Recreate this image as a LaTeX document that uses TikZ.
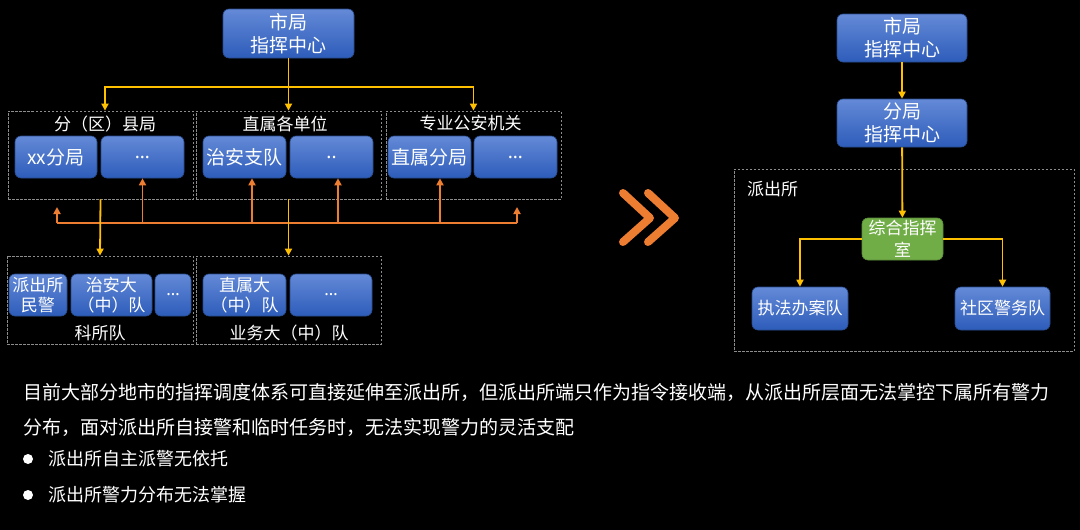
\documentclass[tikz,border=0pt]{standalone}
\usepackage{fontspec}
\setmainfont{Noto Sans CJK SC}
\newfontfamily\latfont{Noto Sans}
\usetikzlibrary{arrows.meta}
\definecolor{yel}{HTML}{FFC000}
\definecolor{org}{HTML}{ED7D31}
\definecolor{btop}{RGB}{100,138,215}
\definecolor{bbot}{RGB}{45,92,186}
\definecolor{bline}{RGB}{40,75,140}
\definecolor{grn}{HTML}{70AD47}
\definecolor{dgray}{RGB}{140,140,140}
\tikzset{
 bx/.style={rounded corners=6pt, draw=bline, line width=0.6pt, top color=btop, bottom color=bbot, text=white, align=center, inner sep=0pt},
 gbx/.style={rounded corners=6pt, draw=grn!80!black, line width=0.6pt, fill=grn, text=white, align=center, inner sep=0pt},
 grp/.style={draw=dgray, line width=0.8pt, dash pattern=on 2.5pt off 1.5pt, inner sep=0pt},
 fA/.style={font=\fontsize{19}{23}\selectfont},
 fB/.style={font=\fontsize{17}{20}\selectfont},
 ya/.style={draw=yel, line width=1.8pt, -{Triangle[width=7pt,length=7pt]}},
 oa/.style={draw=org, line width=1.8pt, -{Triangle[width=7pt,length=7pt]}},
 ol/.style={draw=org, line width=1.8pt},
 lbl/.style={text=white, inner sep=0pt},
}
\begin{document}
\begin{tikzpicture}[x=1pt,y=-1pt]
\fill[black] (0,0) rectangle (1080,530);
\useasboundingbox (0,0) rectangle (1080,530);

% ---- left: top box
\node[bx, fA, minimum width=131pt, minimum height=49pt] (top) at (288.5,33.5) {市局\\指挥中心};

% ---- top groups
\node[grp, minimum width=185pt, minimum height=88pt] (g1) at (100.5,155) {};
\node[grp, minimum width=185pt, minimum height=88pt] (g2) at (288.5,155) {};
\node[grp, minimum width=175pt, minimum height=88pt] (g3) at (473.5,155) {};
\node[lbl, fB] (t1) at (105,124) {分（区）县局};
\node[lbl, fB] (t2) at (285,124) {直属各单位};
\node[lbl, fB] (t3) at (470.5,123) {专业公安机关};

\node[bx, fA, minimum width=82pt, minimum height=42pt] (a1) at (56,157) {xx分局};
\node[bx, fA, minimum width=83pt, minimum height=42pt] (a2) at (142.5,157) {\latfont …};
\node[bx, fA, minimum width=83pt, minimum height=42pt] (b1) at (244.5,157) {治安支队};
\node[bx, fA, minimum width=83pt, minimum height=42pt] (b2) at (331.5,157) {\latfont ..};
\node[bx, fA, minimum width=83pt, minimum height=42pt] (c1) at (429.5,157) {直属分局};
\node[bx, fA, minimum width=83pt, minimum height=42pt] (c2) at (515.5,157) {\latfont …};

% ---- bottom groups
\node[grp, minimum width=186pt, minimum height=88pt] (k1) at (100,300) {};
\node[grp, minimum width=185pt, minimum height=88pt] (k2) at (288.5,300) {};
\node[bx, fB, minimum width=58pt, minimum height=42pt] (d1) at (38,295) {派出所\\民警};
\node[bx, fB, minimum width=81pt, minimum height=42pt] (d2) at (111.5,295) {治安大\\（中）队};
\node[bx, fB, minimum width=36pt, minimum height=42pt] (d3) at (173,295) {\latfont …};
\node[bx, fB, minimum width=83pt, minimum height=42pt] (e1) at (244.5,295) {直属大\\（中）队};
\node[bx, fB, minimum width=82pt, minimum height=42pt] (e2) at (331,295) {\latfont …};
\node[lbl, fB] (s1) at (100,333) {科所队};
\node[lbl, fB] (s2) at (289,333) {业务大（中）队};

% ---- orange bus
\coordinate (o1) at (57,223);
\coordinate (o2) at (517,223);
\draw[ol] (o1) -- (o2);
\draw[oa] (o1) -- ++(0,-16);
\draw[oa] (o2) -- ++(0,-16);
\draw[oa] (a2.south |- o1) -- (a2.south);
\draw[oa] ([xshift=7.5pt]b1.south |- o1) -- ([xshift=7.5pt]b1.south);
\draw[oa] ([xshift=6.5pt]b2.south |- o1) -- ([xshift=6.5pt]b2.south);
\draw[oa] ([xshift=10.5pt]c1.south |- o1) -- ([xshift=10.5pt]c1.south);

% ---- yellow connectors
\coordinate (j1) at (105,87);
\coordinate (j3) at (473.5,87);
\draw[ya] (top.south) -- (g2.north);
\draw[ya] (top.south |- j1) -| (j1 |- g1.north);
\draw[ya] (top.south |- j3) -| (g3.north);
\draw[ya] (g1.south) -- (k1.north);
\draw[ya] (g2.south) -- (k2.north);

% ---- chevrons
\draw[org, line width=8pt, line cap=round, line join=round] (623,193) -- (650,218) -- (623,242);
\draw[org, line width=8pt, line cap=round, line join=round] (648,193) -- (675,218) -- (648,242);

% ---- right side
\node[bx, fA, minimum width=130pt, minimum height=48pt] (r1) at (902,38) {市局\\指挥中心};
\node[bx, fA, minimum width=130pt, minimum height=48pt] (r2) at (902,123) {分局\\指挥中心};
\node[grp, minimum width=340pt, minimum height=182pt] (pbox) at (904,260) {};
\node[lbl, fB, anchor=west] (plbl) at (747,189) {派出所};
\node[gbx, font=\fontsize{17}{22}\selectfont, minimum width=81pt, minimum height=42pt] (gc) at (902.5,239) {综合指挥\\室};
\node[bx, fB, minimum width=96pt, minimum height=43pt] (f1) at (800,308.5) {执法办案队};
\node[bx, fB, minimum width=95pt, minimum height=43pt] (f2) at (1002.5,308.5) {社区警务队};
\draw[ya] (r1) -- (r2);
\draw[ya] (r2) -- (gc);
\draw[ya] (gc.west) -| (f1.north);
\draw[ya] (gc.east) -| (f2.north);

% ---- text
\node[lbl, anchor=west, align=left, font=\fontsize{19}{35}\selectfont] (para) at (23,409.5)
 {目前大部分地市的指挥调度体系可直接延伸至派出所，但派出所端只作为指令接收端，从派出所层面无法掌控下属所有警力\\分布，面对派出所自接警和临时任务时，无法实现警力的灵活支配};
\node[circle, fill=white, minimum size=10pt, inner sep=0pt] (bu1) at (28,459) {};
\node[circle, fill=white, minimum size=10pt, inner sep=0pt] (bu2) at (28,495) {};
\node[lbl, anchor=west, font=\fontsize{18}{22}\selectfont] (bt1) at (48,459) {派出所自主派警无依托};
\node[lbl, anchor=west, font=\fontsize{18}{22}\selectfont] (bt2) at (48,495) {派出所警力分布无法掌握};
\end{tikzpicture}
\end{document}
